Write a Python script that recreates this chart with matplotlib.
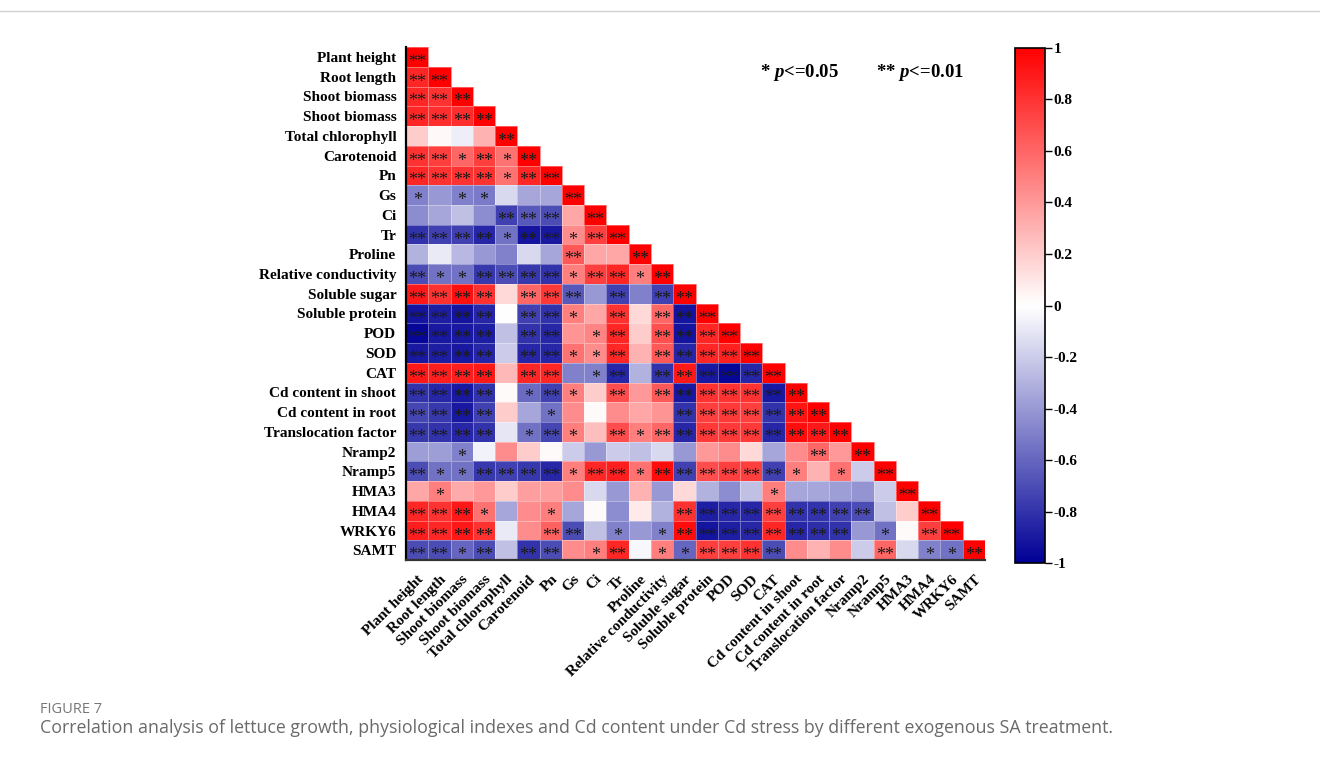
import matplotlib
matplotlib.use("Agg")
import matplotlib.pyplot as plt
import numpy as np
from matplotlib.colors import LinearSegmentedColormap
from matplotlib.lines import Line2D

plt.rcParams['mathtext.fontset'] = 'custom'
plt.rcParams['mathtext.it'] = 'Liberation Serif:italic:bold'
plt.rcParams['mathtext.rm'] = 'Liberation Serif:bold'

labels = ['Plant height', 'Root length', 'Shoot biomass', 'Shoot biomass',
          'Total chlorophyll', 'Carotenoid', 'Pn', 'Gs', 'Ci', 'Tr', 'Proline',
          'Relative conductivity', 'Soluble sugar', 'Soluble protein', 'POD',
          'SOD', 'CAT', 'Cd content in shoot', 'Cd content in root',
          'Translocation factor', 'Nramp2', 'Nramp5', 'HMA3', 'HMA4', 'WRKY6',
          'SAMT']

# lower triangle of the correlation matrix, one list per row
r_rows = [
    [1],
    [0.85, 1],
    [0.85, 0.8, 1],
    [0.85, 0.82, 0.82, 1],
    [0.2, 0.03, -0.07, 0.3, 1],
    [0.8, 0.75, 0.6, 0.75, 0.55, 1],
    [0.85, 0.8, 0.8, 0.8, 0.55, 0.85, 1],
    [-0.5, -0.4, -0.5, -0.52, -0.15, -0.35, -0.35, 1],
    [-0.45, -0.35, -0.25, -0.45, -0.75, -0.65, -0.7, 0.35, 1],
    [-0.8, -0.75, -0.75, -0.85, -0.55, -0.92, -0.9, 0.45, 0.75, 1],
    [-0.3, -0.08, -0.28, -0.4, -0.5, -0.15, -0.35, 0.65, 0.35, 0.35, 1],
    [-0.7, -0.55, -0.55, -0.78, -0.7, -0.78, -0.8, 0.5, 0.75, 0.85, 0.5, 1],
    [0.9, 0.8, 0.93, 0.8, 0.15, 0.6, 0.78, -0.65, -0.4, -0.75, -0.5, -0.75, 1],
    [-0.92, -0.88, -0.92, -0.85, 0.0, -0.75, -0.8, 0.5, 0.35, 0.8, 0.15, 0.6,
     -0.92, 1],
    [-0.97, -0.9, -0.9, -0.88, -0.25, -0.8, -0.85, 0.42, 0.48, 0.85, 0.2, 0.68,
     -0.92, 0.85, 1],
    [-0.9, -0.88, -0.9, -0.85, -0.2, -0.85, -0.85, 0.55, 0.45, 0.85, 0.3, 0.65,
     -0.85, 0.85, 0.87, 1],
    [0.9, 0.88, 0.88, 0.9, 0.28, 0.85, 0.85, -0.5, -0.5, -0.85, -0.3, -0.8,
     0.9, -0.9, -0.97, -0.85, 1],
    [-0.8, -0.85, -0.9, -0.8, 0.02, -0.58, -0.75, 0.5, 0.2, 0.7, 0.4, 0.65,
     -0.9, 0.8, 0.8, 0.8, -0.9, 1],
    [-0.72, -0.78, -0.9, -0.75, 0.2, -0.35, -0.55, 0.45, 0.02, 0.45, 0.35, 0.42,
     -0.8, 0.75, 0.78, 0.75, -0.8, 0.92, 1],
    [-0.78, -0.8, -0.85, -0.8, -0.1, -0.55, -0.72, 0.5, 0.25, 0.7, 0.5, 0.6,
     -0.85, 0.78, 0.78, 0.78, -0.85, 0.95, 0.9, 1],
    [-0.38, -0.38, -0.5, -0.05, 0.45, 0.2, 0.02, -0.2, -0.4, -0.2, -0.25, -0.15,
     -0.4, 0.4, 0.45, 0.15, -0.35, 0.45, 0.6, 0.4, 1],
    [-0.7, -0.55, -0.55, -0.78, -0.75, -0.78, -0.85, 0.5, 0.85, 0.88, 0.55, 0.95,
     -0.75, 0.7, 0.75, 0.75, -0.75, 0.5, 0.3, 0.55, -0.2, 1],
    [0.35, 0.5, 0.33, 0.4, 0.2, 0.38, 0.38, 0.45, -0.15, -0.4, 0.3, -0.4,
     0.15, -0.3, -0.45, -0.25, 0.5, -0.35, -0.35, -0.38, -0.42, -0.2, 1],
    [0.85, 0.8, 0.9, 0.55, -0.35, 0.45, 0.5, -0.35, 0.02, -0.45, 0.08, -0.3,
     0.8, -0.88, -0.85, -0.85, 0.75, -0.8, -0.8, -0.75, -0.7, -0.25, 0.2, 1],
    [0.88, 0.85, 0.9, 0.8, -0.08, 0.45, 0.62, -0.7, -0.25, -0.5, -0.4, -0.5,
     0.95, -0.92, -0.88, -0.85, 0.85, -0.85, -0.82, -0.8, -0.4, -0.55, 0.02,
     0.75, 1],
    [-0.7, -0.7, -0.6, -0.7, -0.25, -0.8, -0.7, 0.45, 0.5, 0.85, -0.03, 0.5,
     -0.6, 0.75, 0.75, 0.8, -0.7, 0.45, 0.3, 0.45, -0.2, 0.6, -0.15, -0.5,
     -0.55, 1],
]

# significance per cell: 2 -> p<=0.01, 1 -> p<=0.05, 0 -> n.s.
sig_rows = [
    "2",
    "22",
    "222",
    "2222",
    "00002",
    "221212",
    "2222122",
    "10110002",
    "000022202",
    "2222122122",
    "00000002002",
    "211222212212",
    "2222022202022",
    "22220221020222",
    "222202201202222",
    "2222022112022222",
    "22220220120222222",
    "222201210202222222",
    "2222001000002222222",
    "22220121021222222222",
    "001000000000000000202",
    "2112222122122222210102",
    "01000000000000001000002",
    "222100100000222222222002",
    "2222002201012222222201022",
    "22120220120112222000020112",
]

n = len(labels)
corr = np.full((n, n), np.nan)
for i, row in enumerate(r_rows):
    corr[i, :len(row)] = row
corr = np.ma.masked_invalid(corr)

cmap = LinearSegmentedColormap.from_list('bwr_origin', ['#000096', '#FFFFFF', '#FF0000'])

fig = plt.figure(figsize=(13.2, 7.6), dpi=100)
ax = fig.add_axes([0.3076, 0.263, 0.4386, 0.675])
mesh = ax.pcolormesh(np.arange(n + 1), np.arange(n + 1), corr, cmap=cmap,
                     vmin=-1, vmax=1, edgecolors=(1, 1, 1, 0.35), linewidth=0.6)
ax.set_xlim(0, n)
ax.set_ylim(n, 0)

marks = {'1': '*', '2': '**'}
for i, s in enumerate(sig_rows):
    for j, c in enumerate(s):
        if c in marks:
            ax.text(j + 0.5, i + 0.78, marks[c], ha='center', va='center',
                    fontsize=13, family='Liberation Serif', color='#1a1a1a')

ax.set_yticks(np.arange(n) + 0.5)
ax.set_yticklabels(labels, family='Liberation Serif', fontweight='bold', fontsize=11)
ax.set_xticks(np.arange(n) + 0.5)
ax.set_xticklabels(labels, family='Liberation Serif', fontweight='bold', fontsize=11,
                   rotation=45, ha='right', va='top', rotation_mode='anchor')
ax.tick_params(axis='y', length=0, pad=7)
ax.tick_params(axis='x', length=0, pad=9)
for side in ['top', 'right']:
    ax.spines[side].set_visible(False)
ax.spines['left'].set_linewidth(1.6)
ax.spines['bottom'].set_linewidth(1.6)
ax.spines['bottom'].set_color('#333333')

# significance key
fig.text(0.576, 0.905, r'* $p$<=0.05', family='Liberation Serif', fontweight='bold',
         fontsize=13.5, ha='left', va='center')
fig.text(0.664, 0.905, r'** $p$<=0.01', family='Liberation Serif', fontweight='bold',
         fontsize=13.5, ha='left', va='center')

# colorbar
cax = fig.add_axes([0.769, 0.259, 0.0227, 0.678])
cb = fig.colorbar(mesh, cax=cax, ticks=np.linspace(-1, 1, 11))
cb.ax.set_yticklabels(['-1', '-0.8', '-0.6', '-0.4', '-0.2', '0', '0.2', '0.4',
                       '0.6', '0.8', '1'], family='Liberation Serif',
                      fontweight='bold', fontsize=11)
cb.ax.tick_params(length=5, width=1, direction='out', pad=1)
cb.outline.set_linewidth(1.2)

# page decorations: top rule and figure caption
fig.add_artist(Line2D([0, 1], [0.986, 0.986], color='#d0d0d0', lw=1,
                      transform=fig.transFigure))
fig.text(0.0303, 0.066, 'FIGURE 7', family='Open Sans', fontsize=10.5, color='#777777',
         ha='left', va='center')
fig.text(0.0303, 0.042, 'Correlation analysis of lettuce growth, physiological indexes '
         'and Cd content under Cd stress by different exogenous SA treatment.',
         family='Open Sans', fontsize=12.8, color='#6a6a6a', ha='left', va='center')

fig.savefig('out.png', dpi=100)
